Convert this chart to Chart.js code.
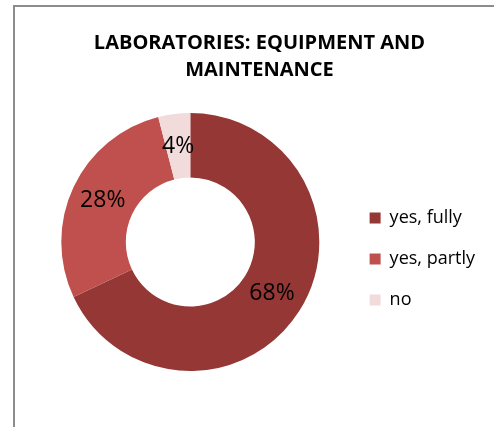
<!DOCTYPE html>
<html>
<head>
<meta charset="utf-8">
<script src="https://cdn.jsdelivr.net/npm/chart.js@4/dist/chart.umd.min.js"></script>
<style>
  html, body { margin: 0; padding: 0; background: #fff; overflow: hidden; }
  #wrap { position: relative; width: 494px; height: 427px; }
  #frame { position: absolute; left: 13px; top: 5px; width: 600px; height: 600px; border: 2px solid #8c8c8c; box-sizing: border-box; }
  #pie { position: absolute; left: 0; top: 0; }
</style>
</head>
<body>
<div id="wrap">
  <div id="frame"></div>
  <canvas id="pie" width="494" height="427"></canvas>
</div>
<script>
const categories = ['yes, fully', 'yes, partly', 'no'];
const shares = [68, 28, 4];
const sliceColors = ['#953735', '#C0504D', '#F2DCDB'];
const titleLines = ['LABORATORIES: EQUIPMENT AND', 'MAINTENANCE'];

const FONT = '"Open Sans", sans-serif';

// write the percentage in the middle of each ring slice
const sliceLabels = {
  id: 'sliceLabels',
  afterDatasetsDraw(chart) {
    const ctx = chart.ctx;
    const meta = chart.getDatasetMeta(0);
    ctx.save();
    ctx.font = '23px ' + FONT;
    ctx.fillStyle = '#000';
    ctx.textAlign = 'center';
    ctx.textBaseline = 'middle';
    meta.data.forEach((arc, i) => {
      const p = arc.tooltipPosition();
      ctx.fillText(shares[i] + '%', p.x, p.y);
    });
    ctx.restore();
  }
};

Chart.defaults.font.family = FONT;
Chart.defaults.color = '#000';

new Chart(document.getElementById('pie'), {
  type: 'doughnut',
  data: {
    labels: categories,
    datasets: [{
      data: shares,
      backgroundColor: sliceColors,
      borderWidth: 0,
      hoverOffset: 0
    }]
  },
  options: {
    responsive: false,
    animation: false,
    cutout: '50%',
    layout: { padding: { left: 34, right: 9, top: 0, bottom: 56 } },
    plugins: {
      title: {
        display: true,
        text: titleLines,
        font: { size: 20, weight: 'bold', lineHeight: 1.35 },
        color: '#000',
        padding: { top: 30, bottom: 29 }
      },
      legend: {
        position: 'right',
        align: 'start',
        // empty title only pushes the items down
        title: { display: true, text: '', font: { size: 12, lineHeight: 1 }, padding: 87 },
        labels: {
          boxWidth: 11,
          boxHeight: 11,
          padding: 23,
          font: { size: 18 },
          color: '#000'
        }
      },
      tooltip: { enabled: false }
    }
  },
  plugins: [sliceLabels]
});
</script>
</body>
</html>
